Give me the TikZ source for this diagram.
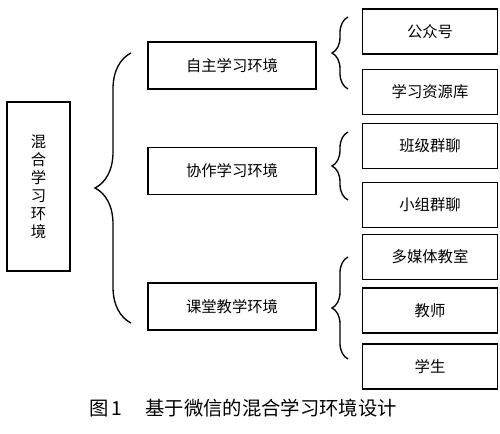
\documentclass[tikz,border=0pt]{standalone}
\usepackage{fontspec}
\newfontfamily\cjk{Noto Sans CJK SC}
\usepackage{tikz}
\usetikzlibrary{decorations.pathreplacing}

\begin{document}
\begin{tikzpicture}[
    x=0.75pt, y=-0.75pt,
    box/.style={draw, line width=1.2pt, font=\cjk\fontsize{11.5}{14}\selectfont,
      inner sep=0pt},
    midbox/.style={box, minimum width=126pt, minimum height=35pt},
    leafbox/.style={box, minimum width=101pt, minimum height=33.5pt},
    bigbrace/.style={decorate, decoration={brace, amplitude=27pt}, line width=1pt},
    smallbrace/.style={decorate, decoration={brace, amplitude=12pt}, line width=1pt},
  ]
    \useasboundingbox (0,0) rectangle (500,434);

    \node[box, minimum width=47pt, minimum height=127pt, align=center,
      font=\cjk\fontsize{11.5}{13.5}\selectfont] (root) at (38.5,186.5)
      {混\\合\\学\\习\\环\\境};

    \node[midbox] (self) at (232,65.5) {自主学习环境};
    \node[midbox] (coop) at (232,171) {协作学习环境};
    \node[midbox] (class) at (232,306.5) {课堂教学环境};

    \node[leafbox] (pub) at (430,31.5) {公众号};
    \node[leafbox] (res) at (430,92) {学习资源库};
    \node[leafbox] (grp) at (430,146) {班级群聊};
    \node[leafbox] (team) at (430,205) {小组群聊};
    \node[leafbox] (media) at (430,257) {多媒体教室};
    \node[leafbox] (teach) at (430,310.5) {教师};
    \node[leafbox] (stu) at (430,366.5) {学生};

    % braces
    \coordinate (b0) at (131,323);
    \coordinate (b1) at (131,53);
    \draw[bigbrace] (b0) -- (b1);

    \coordinate (s1a) at (348,89);
    \coordinate (s1b) at (348,17);
    \draw[smallbrace] (s1a) -- (s1b);
    \coordinate (s2a) at (348,200);
    \coordinate (s2b) at (348,132);
    \draw[smallbrace] (s2a) -- (s2b);
    \coordinate (s3a) at (348,359);
    \coordinate (s3b) at (348,257);
    \draw[smallbrace] (s3a) -- (s3b);

    \node[font=\cjk\fontsize{14.5}{16}\selectfont] (cap) at (243,408)
      {图\,1\hspace{1.2em}基于微信的混合学习环境设计};
  \end{tikzpicture}
\end{document}
